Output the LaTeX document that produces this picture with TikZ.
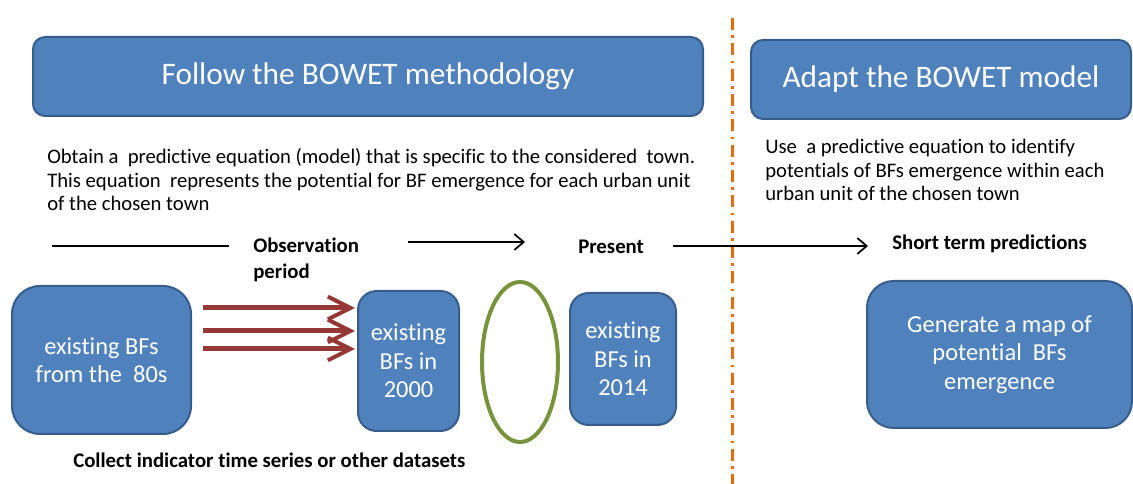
\documentclass[tikz,border=0pt]{standalone}
\usepackage{fontspec}
\setmainfont{Carlito}[Ligatures=NoCommon]
\usetikzlibrary{arrows.meta,shapes.geometric}
\definecolor{boxblue}{HTML}{4F81BD}
\definecolor{boxedge}{HTML}{385D8A}
\definecolor{darkred}{HTML}{953735}
\definecolor{olive}{HTML}{77933C}
\definecolor{divorange}{HTML}{E46C0A}
\tikzset{
  bluebox/.style={draw=boxedge, line width=1.5pt, fill=boxblue, text=white, align=center, inner sep=0pt},
  titletext/.style={font=\fontsize{23.5}{28}\selectfont},
  boxtext/.style={font=\fontsize{18.3}{21.3}\selectfont},
  bodytext/.style={font=\fontsize{15.5}{17.8}\selectfont, align=left, anchor=base west, inner sep=0pt},
  labeltext/.style={font=\bfseries\fontsize{15.6}{19.5}\selectfont, align=left, anchor=base west, inner sep=0pt},
  timeline/.style={line width=1.5pt, black},
  timearrow/.style={line width=1.5pt, black, -{Straight Barb[length=7pt,width=12pt,line width=1.3pt]}},
  redarrow/.style={line width=3.75pt, darkred, -{Straight Barb[length=17pt,width=17pt,line width=3pt]}},
  divider/.style={line width=2.25pt, divorange, dash pattern=on 9pt off 4pt on 2pt off 4pt}
}
\begin{document}
\begin{tikzpicture}[x=0.75pt,y=-0.75pt]
\useasboundingbox (0,0) rectangle (1133,484);

% divider
\coordinate (dtop) at (732,18);
\coordinate (dbot) at (732,484);
\draw[divider] (dtop) -- (dbot);

% header boxes
\node[bluebox, titletext, rounded corners=9pt, minimum width=502.5pt, minimum height=59.25pt] (follow) at (368,76.5) {Follow the BOWET methodology};
\node[bluebox, titletext, rounded corners=9pt, minimum width=285pt, minimum height=59.25pt] (adapt) at (941,79.5) {Adapt the BOWET model};

% body texts (base anchor = last line baseline)
\node[bodytext] (obtain) at (47,211) {Obtain a\ \ predictive equation (model) that is specific to the considered\ \ town.\\This equation\ \ represents the potential for BF emergence for each urban unit\\of the chosen town};
\node[bodytext] (use) at (765,201) {Use\ \ a predictive equation to identify\\potentials of BFs emergence within each\\urban unit of the chosen town};

% timeline
\coordinate (t1a) at (52,246);
\coordinate (t1b) at (229,246);
\draw[timeline] (t1a) -- (t1b);
\node[labeltext] (obs) at (253,279) {Observation\\period};
\coordinate (t2a) at (408,242);
\coordinate (t2b) at (525,242);
\draw[timearrow] (t2a) -- (t2b);
\node[labeltext] (present) at (578,254) {Present};
\coordinate (t3a) at (673,246);
\coordinate (t3b) at (868,246);
\draw[timearrow] (t3a) -- (t3b);
\node[labeltext] (short) at (892,250) {Short term predictions};

% lower boxes
\node[bluebox, boxtext, rounded corners=21pt, minimum width=134.25pt, minimum height=111pt] (b80) at (101.5,360) {existing BFs\\from the\ \ 80s};
\node[bluebox, boxtext, rounded corners=14pt, minimum width=75.75pt, minimum height=105pt] (b2000) at (408.5,361) {existing\\BFs in\\2000};
\node[draw=olive, line width=3pt, ellipse, minimum width=57pt, minimum height=120pt, inner sep=0pt] (ell) at (520,362) {};
\node[bluebox, boxtext, rounded corners=14pt, minimum width=79.5pt, minimum height=99pt] (b2014) at (623,359) {existing\\BFs in\\2014};
\node[bluebox, boxtext, rounded corners=20pt, minimum width=198.75pt, minimum height=110.25pt] (bgen) at (999.5,354.5) {Generate a map of\\potential\ \ BFs\\emergence};

% red arrows
\foreach \i/\yy in {1/308,2/331,3/349}{
  \coordinate (ra\i) at (203,\yy);
  \coordinate (rb\i) at (355,\yy);
  \draw[redarrow] (ra\i) -- (rb\i);
}

\node[labeltext] (collect) at (73,468) {Collect indicator time series or other datasets};
\end{tikzpicture}
\end{document}
